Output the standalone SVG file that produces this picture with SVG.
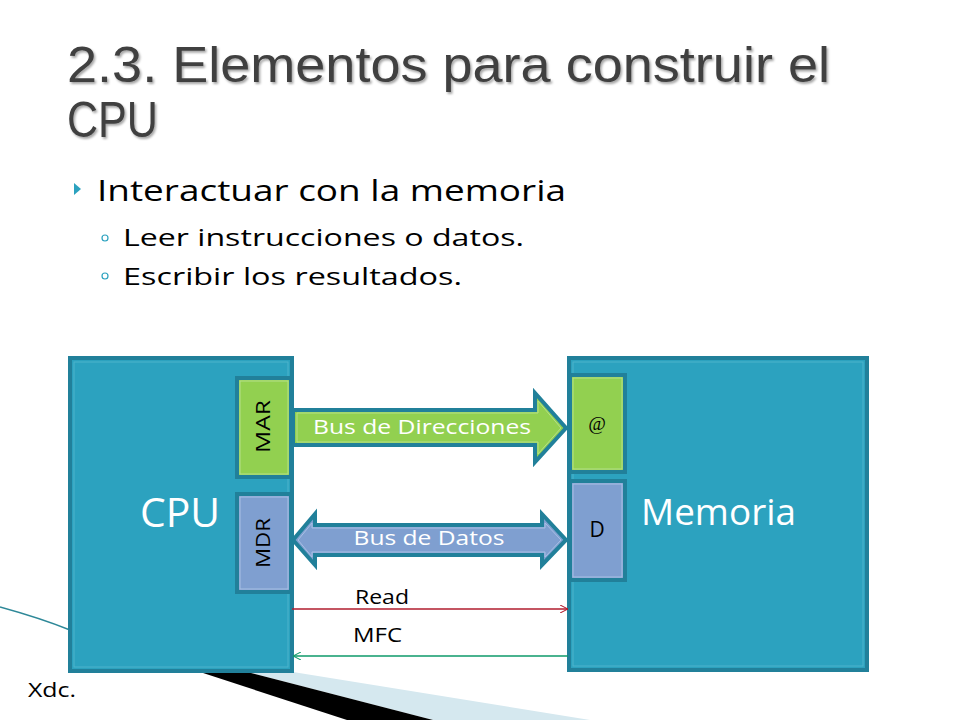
<svg xmlns="http://www.w3.org/2000/svg" width="960" height="720" viewBox="0 0 960 720">
<defs>
<style>
.t{font-family:"Open Sans","Liberation Sans",sans-serif}
.box{fill:#2CA2BF;stroke:#21809A;stroke-width:4}
.inner{fill:none;stroke:#4DB3CC;stroke-width:1}
.grn{fill:#92D050;stroke:#21809A;stroke-width:4}
.blu{fill:#7F9FD0;stroke:#21809A;stroke-width:4}
.ig{fill:none;stroke:#B5E08A;stroke-width:1}
.ib{fill:none;stroke:#A9C0E4;stroke-width:1}
</style>
<filter id="sh" x="-5%" y="-20%" width="110%" height="150%"><feDropShadow dx="1.5" dy="2" stdDeviation="1.2" flood-color="#000" flood-opacity="0.35"/></filter>
<marker id="ar" viewBox="0 0 10 10" refX="10" refY="5" markerWidth="8" markerHeight="8" markerUnits="userSpaceOnUse" orient="auto"><path d="M0,0 L10,5 L0,10" fill="none" stroke="#B01C2E" stroke-width="1.3"/></marker>
<marker id="ag" viewBox="0 0 10 10" refX="10" refY="5" markerWidth="8" markerHeight="8" markerUnits="userSpaceOnUse" orient="auto"><path d="M0,0 L10,5 L0,10" fill="none" stroke="#0E9A6A" stroke-width="1.3"/></marker>
</defs>
<rect width="960" height="720" fill="#ffffff"/>
<g id="decor">
<path d="M0,607 Q40,618 70,630" fill="none" stroke="#2E8898" stroke-width="1.5"/>
<polygon points="247,672 293,672 590,720 433,720" fill="#D5E8EF"/>
<polygon points="200,672 247,672 433,720 347,720" fill="#000000"/>
</g>
<g id="title" filter="url(#sh)">
<text x="67" y="82" font-family="Liberation Sans, Arial, sans-serif" font-size="50" fill="#404040" textLength="763" lengthAdjust="spacingAndGlyphs">2.3. Elementos para construir el</text>
<text x="67" y="137" font-family="Liberation Sans, Arial, sans-serif" font-size="50" fill="#404040" textLength="91" lengthAdjust="spacingAndGlyphs">CPU</text>
</g>
<g id="bullets">
<polygon points="74,183 81,189 74,195" fill="#2CA2BF"/>
<text class="t" x="97" y="201" font-size="29" fill="#000" textLength="469" lengthAdjust="spacingAndGlyphs">Interactuar con la memoria</text>
<circle cx="105" cy="238" r="3" fill="none" stroke="#2CA2BF" stroke-width="1.2"/>
<text class="t" x="123" y="246" font-size="24" fill="#000" textLength="401" lengthAdjust="spacingAndGlyphs">Leer instrucciones o datos.</text>
<circle cx="105" cy="276" r="3" fill="none" stroke="#2CA2BF" stroke-width="1.2"/>
<text class="t" x="123" y="285" font-size="24" fill="#000" textLength="339" lengthAdjust="spacingAndGlyphs">Escribir los resultados.</text>
</g>
<g id="cpu">
<rect class="box" x="70" y="358" width="222" height="313"/>
<rect class="inner" x="74" y="362" width="214" height="305"/>
<text class="t" x="140" y="527" font-size="40" fill="#fff" textLength="80" lengthAdjust="spacingAndGlyphs">CPU</text>
</g>
<g id="memoria">
<rect class="box" x="569" y="358" width="298" height="312"/>
<rect class="inner" x="573" y="362" width="290" height="304"/>
<text class="t" x="641" y="525" font-size="36" fill="#fff" textLength="155" lengthAdjust="spacingAndGlyphs">Memoria</text>
</g>
<g id="mar">
<rect class="grn" x="237" y="378" width="54" height="99"/>
<rect class="ig" x="240" y="381" width="48" height="93"/>
<text class="t" transform="translate(270,427) rotate(-90)" x="-26" y="0" font-size="20" fill="#000" textLength="53" lengthAdjust="spacingAndGlyphs">MAR</text>
</g>
<g id="mdr">
<rect class="blu" x="237" y="494" width="54" height="98"/>
<rect class="ib" x="240" y="497" width="48" height="92"/>
<text class="t" transform="translate(270,543) rotate(-90)" x="-25" y="0" font-size="20" fill="#000" textLength="50" lengthAdjust="spacingAndGlyphs">MDR</text>
</g>
<g id="addr">
<rect class="grn" x="570" y="375" width="55" height="97"/>
<rect class="ig" x="573" y="378" width="49" height="91"/>
<text x="597" y="430" font-family="Liberation Serif, serif" font-style="italic" font-size="19" fill="#000" text-anchor="middle">@</text>
</g>
<g id="data">
<rect class="blu" x="570" y="481" width="55" height="99"/>
<rect class="ib" x="573" y="484" width="49" height="93"/>
<text class="t" x="597" y="537" font-size="21" fill="#000" text-anchor="middle">D</text>
</g>
<g id="connectors">
<polygon points="293,410 535,410 535,393 566,428 535,462 535,445 293,445" fill="#92D050" stroke="#21809A" stroke-width="4" stroke-linejoin="miter"/>
<polygon points="297,413 538,413 538,401 561,428 538,454 538,442 297,442" fill="none" stroke="#B5E08A" stroke-width="1"/>
<text class="t" x="422" y="434" font-size="20" fill="#fff" text-anchor="middle" textLength="218" lengthAdjust="spacingAndGlyphs">Bus de Direcciones</text>
<polygon points="293,540 315,514 315,525 542,525 542,514 566,540 542,565 542,555 315,555 315,565" fill="#7F9FD0" stroke="#21809A" stroke-width="4" stroke-linejoin="miter"/>
<polygon points="298,540 312,523 312,528 545,528 545,523 561,540 545,557 545,552 312,552 312,557" fill="none" stroke="#A9C0E4" stroke-width="1"/>
<text class="t" x="429" y="545" font-size="20" fill="#fff" text-anchor="middle" textLength="151" lengthAdjust="spacingAndGlyphs">Bus de Datos</text>
<line x1="292" y1="609" x2="568" y2="609" stroke="#B01C2E" stroke-width="1.4" marker-end="url(#ar)"/>
<text class="t" x="355" y="604" font-size="20" fill="#000" textLength="54" lengthAdjust="spacingAndGlyphs">Read</text>
<line x1="568" y1="656" x2="293" y2="656" stroke="#0E9A6A" stroke-width="1.4" marker-end="url(#ag)"/>
<text class="t" x="353" y="642" font-size="20" fill="#000" textLength="49" lengthAdjust="spacingAndGlyphs">MFC</text>
</g>
<text class="t" x="28" y="697" font-size="20" fill="#000" textLength="48" lengthAdjust="spacingAndGlyphs">Xdc.</text>
</svg>
